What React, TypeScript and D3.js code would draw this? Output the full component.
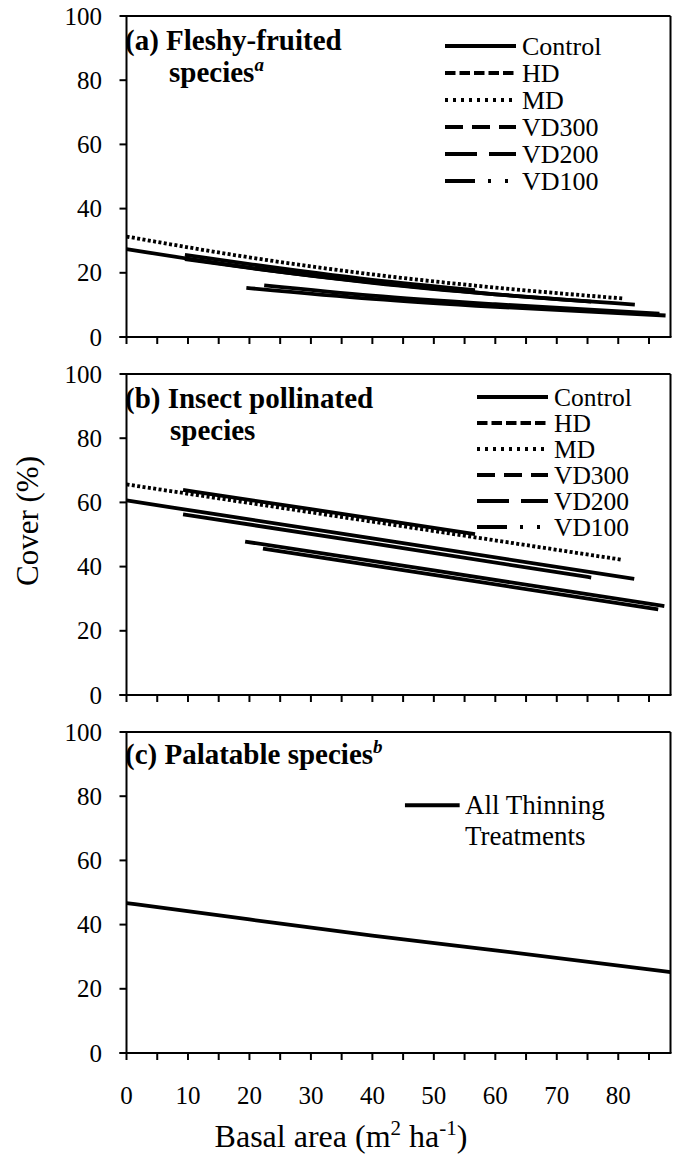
import React from "react";
import * as d3 from "d3";

// ---------- data ----------
const treatments = ["Control", "HD", "MD", "VD300", "VD200", "VD100"];
const legendDash = ["", "10.5,4", "3,5", "18,9", "32,12", "30,13,3,14,3,14"];
const dataDash = ["", "", "3,2.4", "", "", ""];

// Panel (a) fleshy-fruited species: [basal area, cover]
const aControl = [[0, 27.4], [20, 21.6], [40, 17.0], [60, 13.3], [82.7, 10.1]];
const aHD = [[9.5, 25.6], [20, 22.7], [40, 17.8], [56.7, 14.6]];
const aMD = [[0, 31.3], [20, 24.8], [40, 19.5], [60, 15.4], [80.8, 12.0]];
const aVD300 = [[9.5, 24.3], [20, 21.5], [40, 16.9], [60, 13.3], [75.6, 11.0]];
const aVD200 = [[19.5, 15.3], [40, 11.9], [60, 9.4], [87.7, 6.7]];
const aVD100 = [[22.4, 16.1], [40, 12.9], [60, 10.2], [86.7, 7.3]];

// Panel (b) insect pollinated species
const bControl = [[0, 60.6], [40, 48.8], [82.6, 36.2]];
const bHD = [[9.2, 63.9], [30, 57.9], [56.7, 50.1]];
const bMD = [[0, 65.6], [40, 54.0], [80.7, 42.1]];
const bVD300 = [[9.2, 56.3], [40, 47.2], [75.6, 36.6]];
const bVD200 = [[19.3, 47.8], [50, 38.8], [87.5, 27.7]];
const bVD100 = [[22.2, 45.6], [50, 37.4], [86.5, 26.7]];

// Panel (c) palatable species
const cAll = [[0, 46.7], [20, 41.6], [40, 36.6], [60, 32.0], [88.5, 25.2]];

const xTicks = d3.range(0, 90, 5);
const xTickLabels = [0, 10, 20, 30, 40, 50, 60, 70, 80];
const yTicks = [0, 20, 40, 60, 80, 100];

// ---------- layout ----------
const W = 677, H = 1163;
const X0 = 126.5, X1 = 670.5;
const PH = 321;
const tops = [16, 374, 732];
const FONT = '"Liberation Serif", Tinos, "Times New Roman", Times, "DejaVu Serif", serif';
const TS = { fontFamily: FONT };

const x = d3.scaleLinear().domain([0, 88.5]).range([X0, X1]);

function Panel({ top, series, dashes, children }) {
  const y = d3.scaleLinear().domain([0, 100]).range([top + PH, top]);
  const line = d3.line().x((d) => x(d[0])).y((d) => y(d[1])).curve(d3.curveMonotoneX);
  const bottom = top + PH;
  return (
    <g>
      {series.map((s, i) => (
        <path key={i} d={line(s)} fill="none" stroke="#000" strokeWidth={3.8}
          strokeDasharray={dashes[i] || undefined} />
      ))}
      {/* frame */}
      <line x1={X0} x2={X1} y1={top} y2={top} stroke="#000" strokeWidth={2} />
      <line x1={X1} x2={X1} y1={top} y2={bottom} stroke="#000" strokeWidth={2} />
      <line x1={X0} x2={X0} y1={top - 1} y2={bottom} stroke="#000" strokeWidth={2} />
      <line x1={X0 - 7} x2={X1 + 1} y1={bottom} y2={bottom} stroke="#000" strokeWidth={2} />
      {yTicks.map((t) => (
        <g key={t}>
          <line x1={X0 - 7} x2={X0} y1={y(t)} y2={y(t)} stroke="#000" strokeWidth={2} />
          <text x={102} y={y(t) + 8.5} textAnchor="end" fontSize={25} style={TS}>{t}</text>
        </g>
      ))}
      {xTicks.map((t) => (
        <line key={t} x1={x(t)} x2={x(t)} y1={bottom} y2={bottom + 7} stroke="#000" strokeWidth={2} />
      ))}
      {children}
    </g>
  );
}

function Legend({ x0, y0, step, fs }) {
  return (
    <g>
      {treatments.map((t, i) => (
        <g key={t}>
          <line x1={x0} x2={x0 + 71} y1={y0 + i * step} y2={y0 + i * step} stroke="#000"
            strokeWidth={4} strokeDasharray={legendDash[i] || undefined} />
          <text x={x0 + 77} y={y0 + i * step + 8.5} fontSize={fs} style={TS}>{t}</text>
        </g>
      ))}
    </g>
  );
}

export default function App() {
  const yc = d3.scaleLinear().domain([0, 100]).range([tops[2] + PH, tops[2]]);
  return (
    <svg width={W} height={H} style={{ position: "absolute", left: 0, top: 0, background: "#fff" }}>
      <rect width={W} height={H} fill="#fff" />
      <Panel top={tops[0]} series={[aControl, aHD, aMD, aVD300, aVD200, aVD100]} dashes={dataDash}>
        <text x={125} y={50} fontSize={29} fontWeight="bold" style={TS}>(a) Fleshy-fruited</text>
        <text x={169} y={82} fontSize={29} fontWeight="bold" style={TS}>
          species<tspan fontStyle="italic" fontSize={19} dy={-11}>a</tspan>
        </text>
        <Legend x0={445} y0={46} step={27} fs={26} />
      </Panel>
      <Panel top={tops[1]} series={[bControl, bHD, bMD, bVD300, bVD200, bVD100]} dashes={dataDash}>
        <text x={125} y={408} fontSize={29} fontWeight="bold" style={TS}>(b) Insect pollinated</text>
        <text x={170} y={440} fontSize={29} fontWeight="bold" style={TS}>species</text>
        <Legend x0={477} y0={397} step={26} fs={25.5} />
      </Panel>
      <Panel top={tops[2]} series={[cAll]} dashes={[""]}>
        <text x={125} y={764} fontSize={29} fontWeight="bold" style={TS}>
          (c) Palatable species<tspan fontStyle="italic" fontSize={19} dy={-11}>b</tspan>
        </text>
        <line x1={x(45.3)} x2={x(54.2)} y1={yc(77.2)} y2={yc(77.2)} stroke="#000" strokeWidth={4} />
        <text x={465} y={yc(77.2) + 9} fontSize={27} style={TS}>All Thinning</text>
        <text x={465} y={yc(67.5) + 9} fontSize={27} style={TS}>Treatments</text>
      </Panel>
      {xTickLabels.map((t) => (
        <text key={t} x={x(t)} y={1104} textAnchor="middle" fontSize={25} style={TS}>{t}</text>
      ))}
      <text x={341} y={1147} textAnchor="middle" fontSize={32} style={TS}>
        Basal area (m<tspan fontSize={21} dy={-12}>2</tspan>
        <tspan fontSize={32} dy={12}> ha</tspan>
        <tspan fontSize={21} dy={-12}>-1</tspan>
        <tspan fontSize={32} dy={12}>)</tspan>
      </text>
      <text transform="translate(38,521) rotate(-90)" textAnchor="middle" fontSize={31} style={TS}>Cover (%)</text>
    </svg>
  );
}
